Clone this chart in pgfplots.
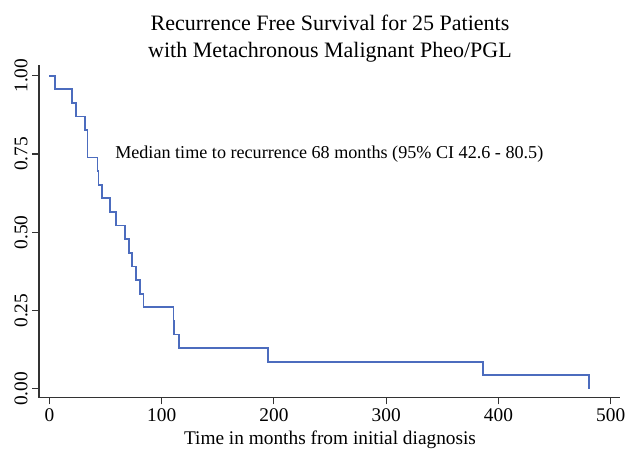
\documentclass[border=0pt]{standalone}
\usepackage{fontspec}
\setmainfont{Liberation Serif}
\usepackage{pgfplots}
\pgfplotsset{compat=1.18}
\definecolor{kmblue}{HTML}{4C6CBE}
\definecolor{axgray}{HTML}{333333}

\begin{document}
\begin{tikzpicture}[x=1pt,y=1pt]
% page box: 625x450 px at 0.75pt per px, axis corner at px (39,397.7)
\path[use as bounding box] (-29.25,-39.2) rectangle (439.5,298.3);
\begin{axis}[
  at={(0,0)}, anchor=south west,
  scale only axis, width=435.75pt, height=249.5pt,
  xmin=-9.3, xmax=508.3, ymin=-0.028, ymax=1.034,
  axis x line*=bottom, axis y line*=left,
  axis line style={axgray, line width=1pt, -},
  xtick={0,100,200,300,400,500},
  xticklabels={0,100,200,300,400,500},
  ytick={0,0.25,0.5,0.75,1},
  yticklabels={0.00,0.25,0.50,0.75,1.00},
  tick align=outside, major tick length=5pt,
  tick style={axgray, line width=0.8pt},
  ticklabel style={font=\fontsize{14.5}{17}\selectfont},
  yticklabel style={rotate=90, anchor=south},
  clip=false,
]
% Kaplan-Meier estimate, 23 events
\addplot[const plot, kmblue, line width=1.3pt] coordinates {
 (0,1.0000) (5,0.9565) (20.4,0.9130) (23.4,0.8696) (31.7,0.8261)
 (33.8,0.7391) (42.7,0.6957) (43.6,0.6522) (47.1,0.6087) (54.0,0.5652)
 (59.0,0.5217) (67.5,0.4783) (70.9,0.4348) (73.6,0.3913) (77.4,0.3478)
 (80.7,0.3043) (83.7,0.2609) (110.5,0.2174) (111.2,0.1739) (115.5,0.1304)
 (195.0,0.0870) (386.0,0.0435) (480.5,0.0000)
};
\node[anchor=west, font=\fontsize{13.6}{16}\selectfont, inner sep=0pt]
  at (axis cs:58.4,0.75) {Median time to recurrence 68 months (95\% CI 42.6 - 80.5)};
\end{axis}
\node[anchor=base, font=\fontsize{16.5}{20}\selectfont] at (218.25,275.25)
  {Recurrence Free Survival for 25 Patients};
\node[anchor=base, font=\fontsize{16.5}{20}\selectfont] at (218.25,255.15)
  {with Metachronous Malignant Pheo/PGL};
\node[anchor=base, font=\fontsize{14.5}{17}\selectfont] at (218.25,-34.7)
  {Time in months from initial diagnosis};
\end{tikzpicture}
\end{document}
